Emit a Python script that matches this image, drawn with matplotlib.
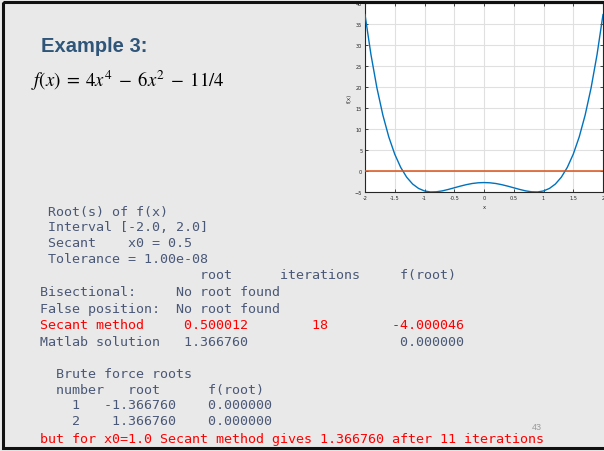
import matplotlib
matplotlib.use('Agg')
import matplotlib.pyplot as plt
from matplotlib.patches import Rectangle

# curve values
x_vals = [-2.0, -1.9, -1.8, -1.7, -1.6, -1.5, -1.4, -1.3, -1.2, -1.1, -1.0,
          -0.9, -0.8, -0.7, -0.6, -0.5, -0.4, -0.3, -0.2, -0.1, 0.0,
          0.1, 0.2, 0.3, 0.4, 0.5, 0.6, 0.7, 0.8, 0.9, 1.0,
          1.1, 1.2, 1.3, 1.4, 1.5, 1.6, 1.7, 1.8, 1.9, 2.0]
f_vals = [37.25, 27.72, 19.80, 13.32, 8.10, 4.00, 0.86, -1.47, -3.10, -4.15, -4.75,
          -4.99, -4.95, -4.73, -4.39, -4.00, -3.61, -3.26, -2.98, -2.81, -2.75,
          -2.81, -2.98, -3.26, -3.61, -4.00, -4.39, -4.73, -4.95, -4.99, -4.75,
          -4.15, -3.10, -1.47, 0.86, 4.00, 8.10, 13.32, 19.80, 27.72, 37.25]
zero_line = [0.0, 0.0]
x_ticks = [-2, -1.5, -1, -0.5, 0, 0.5, 1, 1.5, 2]
x_labels = ['-2', '-1.5', '-1', '-0.5', '0', '0.5', '1', '1.5', '2']
y_ticks = [-5, 0, 5, 10, 15, 20, 25, 30, 35, 40]

title = 'Example 3:'
formula = r'$f(x)\;=\;4x^4\;-\;6x^2\;-\;11/4$'
# console output lines: (text, y of line centre, is red)
out_lines = [
    (' Root(s) of f(x)', 211, False),
    (' Interval [-2.0, 2.0]', 226, False),
    (' Secant    x0 = 0.5', 242, False),
    (' Tolerance = 1.00e-08', 258, False),
    ('                    root      iterations     f(root)', 274, False),
    ('Bisectional:     No root found', 291, False),
    ('False position:  No root found', 308, False),
    ('Secant method     0.500012        18        -4.000046', 324, True),
    ('Matlab solution   1.366760                   0.000000', 341, False),
    ('  Brute force roots', 373, False),
    ('  number   root      f(root)', 389, False),
    ('    1   -1.366760    0.000000', 404, False),
    ('    2    1.366760    0.000000', 420, False),
    ('but for x0=1.0 Secant method gives 1.366760 after 11 iterations', 438, True),
]
page_no = '43'

W, H = 604, 452
fig = plt.figure(figsize=(W / 100, H / 100), dpi=100)
fig.patch.set_facecolor('#e9e9e9')

# inset plot
ax = fig.add_axes([365 / W, 1 - 193 / H, 238 / W, 189 / H])
ax.set_facecolor('white')
ax.plot(x_vals, f_vals, color='#0072bd', lw=1.0, zorder=3)
ax.plot([-2, 2], zero_line, color='#d95319', lw=1.1, zorder=3)
ax.set_xlim(-2, 2)
ax.set_ylim(-5, 40)
ax.set_xticks(x_ticks)
ax.set_xticklabels(x_labels)
ax.set_yticks(y_ticks)
ax.grid(True, color='#e0e0e0', lw=0.8)
ax.set_axisbelow(True)
ax.tick_params(direction='in', length=2, width=0.6, labelsize=3.6, colors='#262626',
               top=True, right=True, pad=2)
for s in ax.spines.values():
    s.set_color('#262626')
    s.set_linewidth(0.8)
ax.set_xlabel('x', fontsize=3.8, labelpad=3, color='#262626')
ax.set_ylabel('f(x)', fontsize=3.8, labelpad=2, color='#262626')

# overlay for slide text and frame
ov = fig.add_axes([0, 0, 1, 1], zorder=5)
ov.set_xlim(0, W)
ov.set_ylim(H, 0)
ov.axis('off')
ov.patch.set_alpha(0)

ov.text(41, 47, title, fontsize=14.5, fontweight='bold', color='#2f5679',
        family='Liberation Sans', va='center', ha='left')
ov.text(31, 81, formula, fontsize=13.5, color='black', va='center', ha='left',
        math_fontfamily='stix')

for txt, yc, red in out_lines:
    ov.text(40, yc + 5, txt, family='DejaVu Sans Mono', fontsize=9.62,
            color='#ff0000' if red else '#4a5877', va='baseline', ha='left')

ov.text(537, 428, page_no, fontsize=6.5, color='#9a9a9a', ha='center', va='center',
        family='Liberation Sans')

ov.add_patch(Rectangle((3, 3), 620, 445.5, fill=False, ec='#111111', lw=2.2))

fig.savefig('out.png', dpi=100, facecolor=fig.get_facecolor())
